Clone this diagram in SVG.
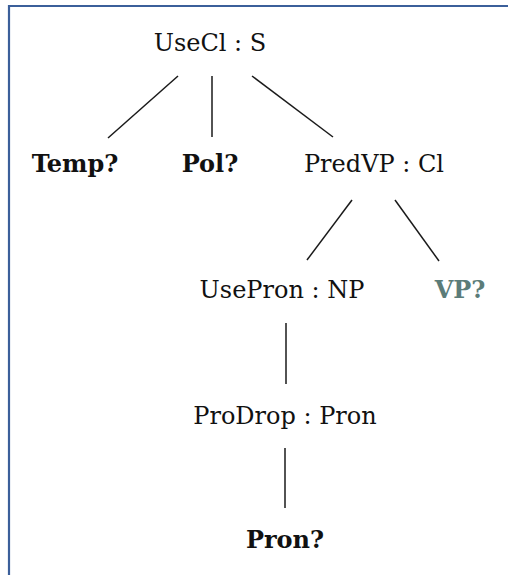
<svg xmlns="http://www.w3.org/2000/svg" width="508" height="575" viewBox="0 0 508 575">
  <style>
    text { font-family: "DejaVu Serif", "Liberation Serif", serif; font-size: 24px; fill: #111; text-anchor: middle; }
    .meta { font-weight: bold; }
    .focus { font-weight: bold; fill: #5b7c79; }
    .edge { stroke: #1a1a1a; stroke-width: 1.5; fill: none; }
  </style>
  <rect width="508" height="575" fill="#ffffff"/>
  <!-- frame: only top and left edges are visible -->
  <path d="M9,575 V6 H508" fill="none" stroke="#3b5f9a" stroke-width="2.2"/>

  <g id="connectors">
    <line class="edge" x1="178" y1="76" x2="108" y2="138"/>
    <line class="edge" x1="212" y1="76" x2="212" y2="137"/>
    <line class="edge" x1="252" y1="76" x2="333" y2="137"/>
    <line class="edge" x1="352" y1="200" x2="307" y2="260"/>
    <line class="edge" x1="395" y1="200" x2="439" y2="261"/>
    <line class="edge" x1="286" y1="323" x2="286" y2="384"/>
    <line class="edge" x1="285" y1="448" x2="285" y2="508"/>
  </g>

  <g id="useCl"><text x="210" y="51">UseCl : S</text></g>
  <g id="temp"><text class="meta" x="75" y="172">Temp?</text></g>
  <g id="pol"><text class="meta" x="210" y="172">Pol?</text></g>
  <g id="predVP"><text x="374" y="172">PredVP : Cl</text></g>
  <g id="usePron"><text x="282" y="298">UsePron : NP</text></g>
  <g id="vp"><text class="focus" x="460" y="298">VP?</text></g>
  <g id="proDrop"><text x="285" y="424">ProDrop : Pron</text></g>
  <g id="pron"><text class="meta" x="285" y="548">Pron?</text></g>
</svg>
